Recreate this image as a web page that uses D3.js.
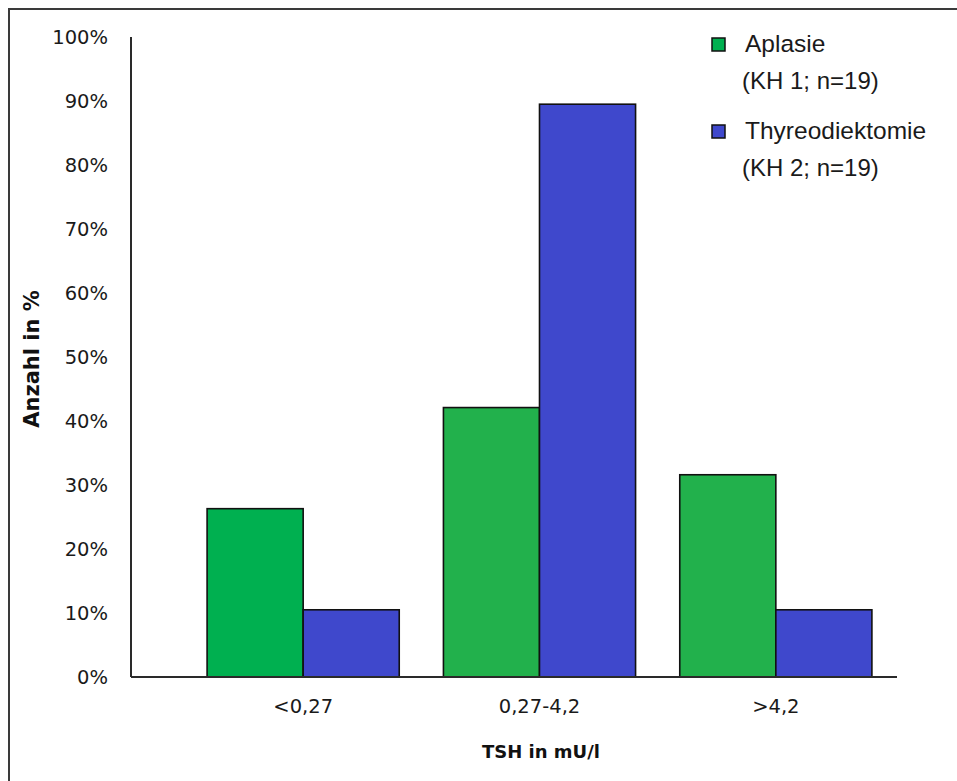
<!DOCTYPE html>
<html>
<head>
<meta charset="utf-8">
<script src="https://cdn.jsdelivr.net/npm/d3@7/dist/d3.min.js"></script>
<style>
  html, body { margin: 0; padding: 0; background: #fff; }
  svg { display: block; }
</style>
</head>
<body>
<svg id="chart" width="957" height="781"></svg>
<script>
// TSH categories (mU/l) and share of patients per group, in percent
const categories = ["<0,27", "0,27-4,2", ">4,2"];
const seriesNames = ["Aplasie", "Thyreodiektomie"];
const legendSubtitles = ["(KH 1; n=19)", "(KH 2; n=19)"];
const aplasieValues = [26.3, 42.1, 31.6];
const thyreoValues = [10.5, 89.5, 10.5];
const yTicks = [0, 10, 20, 30, 40, 50, 60, 70, 80, 90, 100];

// fills
const seriesColors = { "Aplasie": "#22b14c", "Thyreodiektomie": "#3f48cc" };
const firstBarGreen = "#00b050";

const svg = d3.select("#chart");

// outer frame (continues past the right and bottom edges)
svg.append("rect")
  .attr("x", 9).attr("y", 9)
  .attr("width", 1000).attr("height", 820)
  .attr("fill", "#fff")
  .attr("stroke", "#3a3a3a")
  .attr("stroke-width", 2);

const plotLeft = 131, plotRight = 897;
const y = d3.scaleLinear().domain([0, 100]).range([677, 37]);

const x0 = d3.scaleBand().domain(categories).range([185, 894]).padding(0);
const x1 = d3.scaleBand().domain(seriesNames)
  .range([0, x0.bandwidth()]).paddingInner(0).paddingOuter(0.23);

const rows = categories.map((c, i) => ({
  category: c,
  values: [
    { series: "Aplasie", value: aplasieValues[i] },
    { series: "Thyreodiektomie", value: thyreoValues[i] }
  ]
}));

// bars
const groups = svg.append("g").selectAll("g")
  .data(rows).join("g")
  .attr("transform", d => `translate(${x0(d.category)},0)`);

groups.selectAll("rect")
  .data((d, i) => d.values.map(v => ({ ...v, ci: i })))
  .join("rect")
  .attr("x", d => x1(d.series))
  .attr("y", d => y(d.value))
  .attr("width", x1.bandwidth())
  .attr("height", d => y(0) - y(d.value))
  .attr("fill", d => (d.series === "Aplasie" && d.ci === 0) ? firstBarGreen : seriesColors[d.series])
  .attr("stroke", "#111")
  .attr("stroke-width", 1.6);

// y axis labels
const yAxis = d3.axisLeft(y).tickValues(yTicks).tickSize(0).tickPadding(23)
  .tickFormat(d => d + "%");
const gy = svg.append("g").attr("transform", `translate(${plotLeft},0)`).call(yAxis);
gy.select(".domain").remove();
gy.selectAll("text")
  .attr("font-family", "DejaVu Sans, Verdana, sans-serif")
  .attr("font-size", 19.5)
  .attr("fill", "#1a1a1a");

// x axis labels
const xAxis = d3.axisBottom(x0).tickSize(0).tickPadding(22);
const gx = svg.append("g").attr("transform", `translate(0,${y(0)})`).call(xAxis);
gx.select(".domain").remove();
gx.selectAll("text")
  .attr("font-family", "DejaVu Sans, Verdana, sans-serif")
  .attr("font-size", 19.5)
  .attr("fill", "#1a1a1a");

// axis lines
svg.append("line")
  .attr("x1", plotLeft).attr("x2", plotLeft)
  .attr("y1", y(100)).attr("y2", y(0))
  .attr("stroke", "#2a2a2a").attr("stroke-width", 2);
svg.append("line")
  .attr("x1", plotLeft).attr("x2", plotRight)
  .attr("y1", y(0)).attr("y2", y(0))
  .attr("stroke", "#2a2a2a").attr("stroke-width", 2);

// axis titles
svg.append("text")
  .attr("x", 541).attr("y", 758)
  .attr("text-anchor", "middle")
  .attr("font-family", "DejaVu Sans, Verdana, sans-serif")
  .attr("font-weight", "bold")
  .attr("font-size", 18)
  .attr("fill", "#111")
  .text("TSH in mU/l");

svg.append("text")
  .attr("transform", "translate(39,359) rotate(-90)")
  .attr("text-anchor", "middle")
  .attr("font-family", "DejaVu Sans, Verdana, sans-serif")
  .attr("font-weight", "bold")
  .attr("font-size", 21)
  .attr("fill", "#111")
  .text("Anzahl in %");

// legend
const legend = svg.append("g");
const legendRows = [
  { name: seriesNames[0], sub: legendSubtitles[0], color: "#00b050", top: 38 },
  { name: seriesNames[1], sub: legendSubtitles[1], color: seriesColors["Thyreodiektomie"], top: 125 }
];
legendRows.forEach(r => {
  legend.append("rect")
    .attr("x", 712).attr("y", r.top)
    .attr("width", 13).attr("height", 13)
    .attr("fill", r.color)
    .attr("stroke", "#111").attr("stroke-width", 1.5);
  legend.append("text")
    .attr("x", 745).attr("y", r.top + 14)
    .attr("font-family", "Liberation Sans, Arial, sans-serif")
    .attr("font-size", 24.5)
    .attr("fill", "#1a1a1a")
    .text(r.name);
  legend.append("text")
    .attr("x", 742).attr("y", r.top + 51)
    .attr("font-family", "Liberation Sans, Arial, sans-serif")
    .attr("font-size", 24)
    .attr("fill", "#1a1a1a")
    .text(r.sub);
});
</script>
</body>
</html>
